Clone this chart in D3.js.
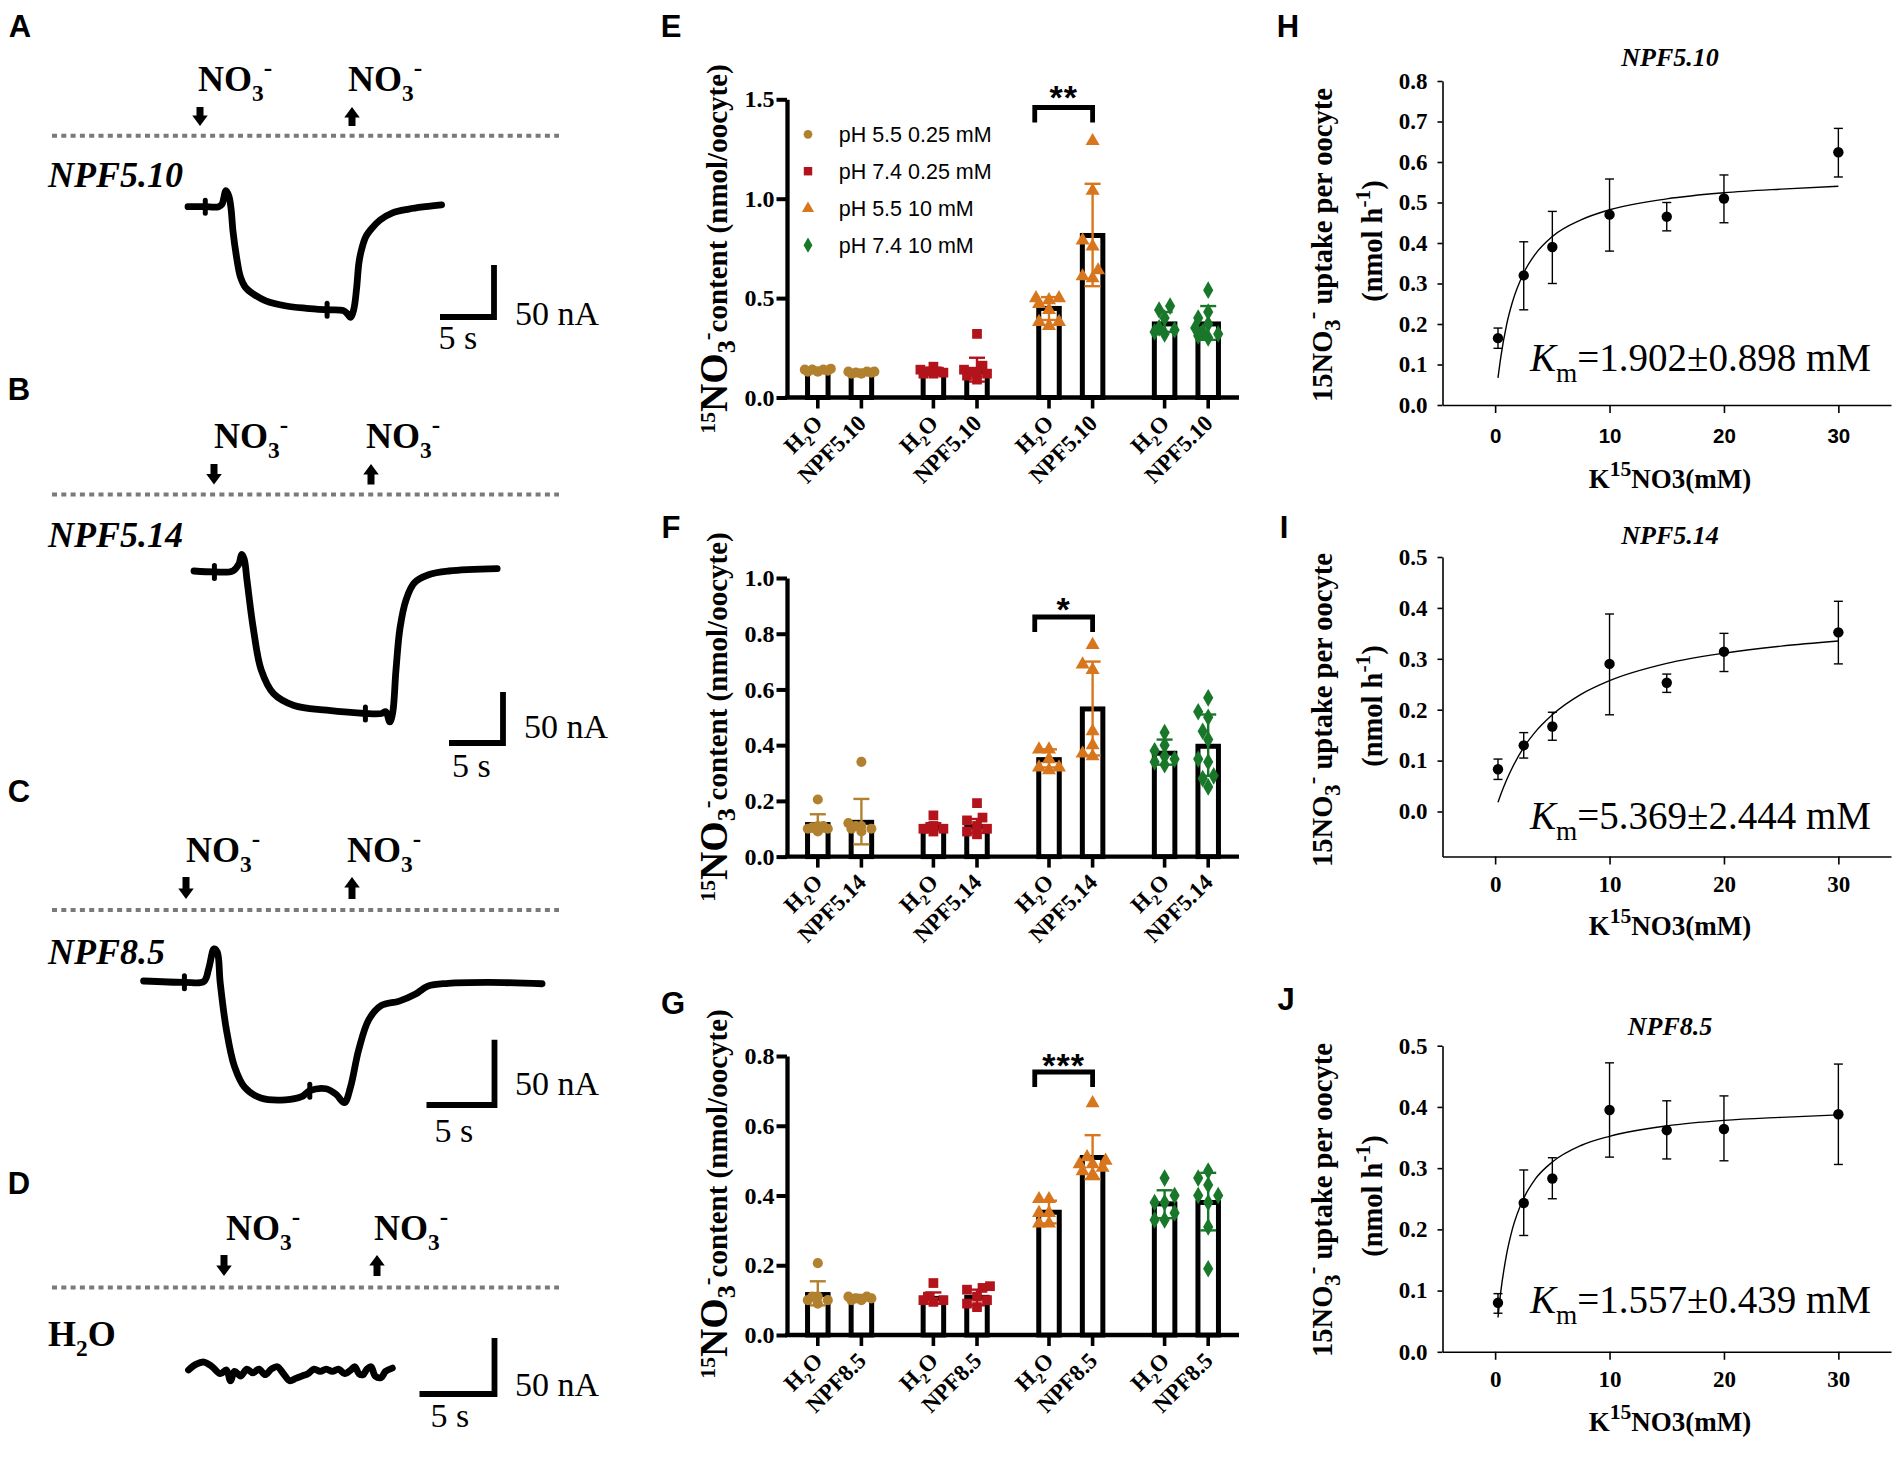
<!DOCTYPE html>
<html><head><meta charset="utf-8">
<script src="https://cdn.jsdelivr.net/npm/d3@7/dist/d3.min.js"></script>
<style>html,body{margin:0;padding:0;background:#fff;}svg{display:block;}</style>
</head><body>
<script>
// ================= DATA =================
// Panels A-D : TEVC current traces  [time (s), current (nA)]
const traceA = [[0,0],[1.52,0],[2.84,0],[3.14,2.3],[3.52,15.5],[3.79,10],[3.98,-1.4],[4.17,-24],[4.47,-46.8],[4.85,-67.3],[5.3,-77.3],[6.06,-84.1],[7.2,-90.5],[9.09,-95.5],[10.98,-97.7],[12.88,-99.1],[14.39,-100],[14.77,-103.2],[15.04,-106.4],[15.34,-99.1],[15.61,-78.6],[15.83,-53.6],[16.1,-40],[16.48,-28.6],[17.05,-20.5],[17.8,-12.7],[18.94,-5.9],[20.45,-2.3],[21.97,0],[23.48,1.8]];
const traceB = [[0,0],[1.89,-0.9],[3.59,0],[4.16,6.9],[4.42,16.2],[4.65,11.6],[4.91,-9.3],[5.48,-55.5],[6.23,-97.2],[7.37,-120.3],[9.26,-131.9],[12.28,-136.5],[15.87,-139.7],[17.38,-139.7],[17.76,-137.9],[18.13,-148],[18.4,-138.8],[18.7,-97.2],[19.08,-55.5],[19.65,-27.8],[20.4,-11.6],[21.72,-3.7],[23.61,0],[28.07,2.3]];
const traceC = [[0,0],[3.0,-1],[4.43,-0.4],[4.79,9.6],[5.18,24.6],[5.42,22],[5.63,-1],[6.08,-36.8],[6.68,-65.4],[7.43,-81.4],[8.62,-89.6],[10.42,-91],[11.62,-88.6],[12.22,-84],[13.41,-82.5],[14.16,-86.8],[14.76,-93.2],[15.21,-81.4],[15.81,-52.9],[16.56,-29.6],[17.46,-18.9],[18.8,-15.4],[20.0,-10],[20.9,-3.9],[22.4,-1.8],[25.4,-1.1],[29.3,-2.1]];
const traceD = [[0,0],[0.49,5],[1.03,7.1],[1.58,2.9],[2.12,-3.3],[2.53,0],[2.8,-9.6],[3.07,-1.25],[3.48,-5.4],[3.89,0.8],[4.29,-2.5],[4.7,0.8],[5.11,-4.2],[5.52,0.8],[5.92,2.9],[6.33,-3.3],[6.74,-9.6],[7.15,-7.5],[7.55,-5.4],[7.96,-3.3],[8.37,0.8],[8.78,-1.25],[9.18,0.8],[9.59,-1.25],[10.0,0.8],[10.41,-3.3],[10.82,0],[11.09,2.9],[11.36,-3.3],[11.63,-4.2],[11.9,0.8],[12.17,2.9],[12.45,-5.4],[12.85,-6.7],[13.13,-1.25],[13.59,1.7]];
const marksA = [[1.6,0],[12.88,-99.1]];
const marksB = [[1.89,-0.9],[15.87,-139.7]];
const marksC = [[3.0,-1],[12.22,-84]];
const marksD = [];
const traceNames = ["NPF5.10","NPF5.14","NPF8.5","H2O"];
const scaleBarTime = 5;   // s
const scaleBarCurrent = 50; // nA

// Panels E-G : 15NO3- content (nmol/oocyte)
const barGroups = ["pH 5.5 0.25 mM","pH 7.4 0.25 mM","pH 5.5 10 mM","pH 7.4 10 mM"];
const E_mean = [0.139,0.13,0.13,0.13,0.448,0.815,0.37,0.37];
const E_lo   = [0.13,0.12,0.12,0.08,0.39,0.56,0.33,0.29];
const E_hi   = [0.15,0.14,0.15,0.20,0.505,1.075,0.43,0.46];
const E_pts  = [[0.13,0.14,0.145,0.135,0.14,0.13,0.14],[0.12,0.13,0.125,0.13,0.12,0.125,0.13],[0.155,0.13,0.12,0.13,0.14,0.12,0.125],[0.32,0.16,0.14,0.12,0.11,0.09,0.13,0.12],[0.50,0.49,0.50,0.47,0.44,0.38,0.36,0.38],[1.29,1.04,0.79,0.76,0.64,0.61,0.60],[0.46,0.44,0.40,0.35,0.34,0.32,0.33],[0.54,0.43,0.40,0.37,0.35,0.33,0.31,0.30,0.32]];
const F_mean = [0.115,0.123,0.107,0.108,0.348,0.53,0.371,0.396];
const F_lo   = [0.09,0.044,0.095,0.085,0.32,0.363,0.33,0.29];
const F_hi   = [0.152,0.207,0.12,0.135,0.385,0.70,0.42,0.51];
const F_pts  = [[0.205,0.11,0.10,0.10,0.11,0.105,0.09],[0.34,0.12,0.11,0.10,0.09,0.10,0.11],[0.148,0.11,0.10,0.10,0.09,0.10],[0.192,0.14,0.13,0.11,0.09,0.08,0.10],[0.385,0.385,0.35,0.32,0.31,0.32],[0.76,0.69,0.67,0.45,0.40,0.37,0.36],[0.445,0.40,0.38,0.35,0.33,0.34,0.36],[0.57,0.52,0.50,0.45,0.42,0.35,0.34,0.29,0.28,0.25]];
const G_mean = [0.116,0.11,0.105,0.108,0.352,0.509,0.376,0.38];
const G_lo   = [0.085,0.10,0.09,0.085,0.32,0.447,0.335,0.30];
const G_hi   = [0.154,0.115,0.122,0.13,0.385,0.573,0.415,0.465];
const G_pts  = [[0.206,0.11,0.10,0.10,0.11,0.09],[0.11,0.105,0.10,0.11,0.10,0.105],[0.149,0.11,0.10,0.10,0.095],[0.14,0.135,0.13,0.11,0.09,0.08,0.10],[0.39,0.39,0.35,0.35,0.32,0.32],[0.665,0.51,0.50,0.49,0.48,0.47,0.46,0.49],[0.45,0.40,0.38,0.38,0.35,0.33,0.33],[0.47,0.45,0.43,0.40,0.40,0.38,0.31,0.19]];
const E_ticks = [0,0.5,1.0,1.5];
const F_ticks = [0,0.2,0.4,0.6,0.8,1.0];
const G_ticks = [0,0.2,0.4,0.6,0.8];

// Panels H-J : uptake kinetics
const conc = [0.25,2.5,5,10,15,20,30];
const H_mean = [0.165,0.32,0.39,0.47,0.465,0.51,0.624];
const H_lo   = [0.14,0.235,0.30,0.38,0.43,0.45,0.563];
const H_hi   = [0.19,0.403,0.478,0.558,0.50,0.568,0.683];
const I_mean = [0.083,0.13,0.167,0.29,0.253,0.314,0.352];
const I_lo   = [0.063,0.105,0.14,0.19,0.234,0.275,0.29];
const I_hi   = [0.103,0.155,0.195,0.388,0.27,0.35,0.413];
const J_mean = [0.08,0.243,0.283,0.395,0.362,0.364,0.388];
const J_lo   = [0.063,0.19,0.25,0.318,0.315,0.312,0.306];
const J_hi   = [0.095,0.297,0.317,0.472,0.41,0.418,0.47];
const fitX   = [0.25,0.5,1,1.5,2.5,3.5,5,7.5,10,15,20,25,30];
const H_fit  = [0.067,0.119,0.198,0.253,0.326,0.372,0.416,0.457,0.482,0.509,0.524,0.533,0.540];
const I_fit  = [0.018,0.034,0.062,0.086,0.126,0.156,0.19,0.23,0.257,0.291,0.311,0.325,0.335];
const J_fit  = [0.056,0.099,0.159,0.2,0.251,0.282,0.31,0.337,0.352,0.369,0.378,0.383,0.387];
const kinTitles = ["NPF5.10","NPF5.14","NPF8.5"];
const kmText = ["1.902\u00B10.898 mM","5.369\u00B12.444 mM","1.557\u00B10.439 mM"];
const kinXTicks = [0,10,20,30];
const H_ticks = [0,0.1,0.2,0.3,0.4,0.5,0.6,0.7,0.8];
const IJ_ticks = [0,0.1,0.2,0.3,0.4,0.5];

// ================= STYLE / LAYOUT =================
const SERIF = "'Liberation Serif','Times New Roman',Times,serif";
const SANS  = "'Liberation Sans',Arial,Helvetica,sans-serif";
const groupColors = ["#b1812f","#b3141c","#d8761d","#19772a"];
const groupSymbols = [d3.symbolCircle,d3.symbolSquare,d3.symbolTriangle,d3.symbolDiamond];
const symbolSizes = [80,95,85,90];

const svg = d3.select("body").append("svg").attr("width",1904).attr("height",1471).attr("viewBox","0 0 1904 1471");
svg.append("rect").attr("width",1904).attr("height",1471).attr("fill","#fff");

function rich(t, parts, base){
  let shift = 0;
  parts.forEach(p=>{
    const s = t.append("tspan").text(p.t);
    let target = 0, size = base*(p.k||1);
    if(p.sub){ target = base*0.28; size = base*(p.k||0.65); }
    if(p.sup){ target = -base*0.42; size = base*(p.k||0.65); }
    const d = target-shift;
    if(d!==0) s.attr("dy",d.toFixed(2));
    s.attr("font-size",size.toFixed(2));
    if(p.it) s.attr("font-style","italic");
    shift = target;
  });
  return t;
}
function richParts(name){
  if(name==="H2O") return [{t:"H"},{t:"2",sub:true},{t:"O"}];
  return [{t:name}];
}

// panel letters
const letters = ["A","B","C","D","E","F","G","H","I","J"];
const letterPos = [[20,37.3],[19,400],[19,802],[19,1194],[671,37.3],[671,538],[673,1014],[1288,37.3],[1284,538],[1286,1010]];
letters.forEach((l,i)=>{
  svg.append("text").attr("x",letterPos[i][0]).attr("y",letterPos[i][1]).attr("text-anchor","middle")
    .attr("font-family",SANS).attr("font-weight","bold").attr("font-size",31).text(l);
});

// ================= PANELS A-D =================
const traceLayout = [
 {data:traceA, marks:marksA, italic:true,  geneY:187.3, dotY:135.7, no3X:[198,348], no3Y:90.7, arrX:[200,352], arrY:[107,126],   x0:188,   y0:206.7, pxs:10.8, pxn:1.04, corner:[494,317],  nA:[515,325],  s:[438.6,349]},
 {data:traceB, marks:marksB, italic:true,  geneY:547,   dotY:494.6, no3X:[214,366], no3Y:448,  arrX:[214,371], arrY:[464,484.5], x0:194,   y0:571,   pxs:10.8, pxn:1.02, corner:[503,743],  nA:[524,738],  s:[452,777]},
 {data:traceC, marks:marksC, italic:true,  geneY:964,   dotY:910,   no3X:[186,347], no3Y:862,  arrX:[186,352], arrY:[877,899],   x0:143.6, y0:981,   pxs:13.6, pxn:1.306,corner:[494.5,1105],nA:[515,1095], s:[434.5,1142]},
 {data:traceD, marks:marksD, italic:false, geneY:1346,  dotY:1287.6,no3X:[226,374], no3Y:1240, arrX:[224,377], arrY:[1255,1276], x0:188.5, y0:1370,  pxs:15,   pxn:1.12, corner:[494.5,1394],nA:[515,1396], s:[430.4,1427]}
];

function arrowPath(x, top, bot, down){
  const sw=7, hw=15.5, hh=10.5;
  if(down) return `M${x-sw/2},${top}L${x+sw/2},${top}L${x+sw/2},${bot-hh}L${x+hw/2},${bot-hh}L${x},${bot}L${x-hw/2},${bot-hh}L${x-sw/2},${bot-hh}Z`;
  return `M${x-sw/2},${bot}L${x+sw/2},${bot}L${x+sw/2},${top+hh}L${x+hw/2},${top+hh}L${x},${top}L${x-hw/2},${top+hh}L${x-sw/2},${top+hh}Z`;
}

traceLayout.forEach((L,i)=>{
  const g = svg.append("g");
  const x = d3.scaleLinear().domain([0,1]).range([L.x0, L.x0+L.pxs]);
  const y = d3.scaleLinear().domain([0,1]).range([L.y0, L.y0-L.pxn]);
  // dotted line
  g.append("line").attr("x1",52).attr("x2",559).attr("y1",L.dotY).attr("y2",L.dotY)
    .attr("stroke","#7a7a7a").attr("stroke-width",4).attr("stroke-dasharray","5,4.3");
  // NO3- labels and arrows
  [0,1].forEach(k=>{
    const t = g.append("text").attr("x",L.no3X[k]).attr("y",L.no3Y).attr("font-family",SERIF).attr("font-weight","bold");
    rich(t,[{t:"NO"},{t:"3",sub:true},{t:"-",sup:true,k:0.7}],36);
    g.append("path").attr("d",arrowPath(L.arrX[k],L.arrY[0],L.arrY[1],k===0)).attr("fill","#000");
  });
  // gene label
  const gt = g.append("text").attr("x",48).attr("y",L.geneY).attr("font-family",SERIF).attr("font-weight","bold")
    .attr("font-style",L.italic?"italic":"normal");
  rich(gt, richParts(traceNames[i]), 36);
  // trace
  const line = d3.line().x(d=>x(d[0])).y(d=>y(d[1])).curve(d3.curveCatmullRom.alpha(0.5));
  g.append("path").datum(L.data).attr("d",line).attr("fill","none").attr("stroke","#000")
    .attr("stroke-width",6.8).attr("stroke-linejoin","round").attr("stroke-linecap","round");
  g.selectAll(".mk").data(L.marks).enter().append("line")
    .attr("x1",d=>x(d[0])).attr("x2",d=>x(d[0])).attr("y1",d=>y(d[1])-6.5).attr("y2",d=>y(d[1])+6.5)
    .attr("stroke","#000").attr("stroke-width",5).attr("stroke-linecap","round");
  // scale bar
  const hx = x(scaleBarTime)-x(0), vy = y(0)-y(scaleBarCurrent);
  const cx = L.corner[0], cy = L.corner[1];
  g.append("path").attr("d",`M${cx-hx},${cy}H${cx}V${cy-vy}`).attr("fill","none").attr("stroke","#000")
    .attr("stroke-width",5.8);
  g.append("text").attr("x",L.nA[0]).attr("y",L.nA[1]).attr("font-family",SERIF).attr("font-size",34).text(scaleBarCurrent+" nA");
  g.append("text").attr("x",L.s[0]).attr("y",L.s[1]).attr("font-family",SERIF).attr("font-size",34).text(scaleBarTime+" s");
});

// ================= PANELS E-G =================
function swarm(vals, yS, r){
  const placed=[], out=new Array(vals.length);
  const order=d3.range(vals.length).sort((a,b)=>vals[a]-vals[b]);
  const cands=[0,-5.5,5.5,-10,10,-13,13];
  order.forEach(i=>{
    const py=yS(vals[i]);
    let best=null, bestD=-1;
    for(const c of cands){
      const md = placed.length? d3.min(placed,p=>Math.hypot(p[0]-c,p[1]-py)) : 1e9;
      if(md>=r*1.7){best=c;break;}
      if(md>bestD){bestD=md;best=c;}
    }
    placed.push([best,py]); out[i]=best;
  });
  return out;
}

const barLayout = [
 {mean:E_mean, lo:E_lo, hi:E_hi, pts:E_pts, ticks:E_ticks, yMax:1.5, y0:397.5, yTop:99.3, gene:"NPF5.10", sig:"**",  bracketTop:107.5, sigY:109, titleY:249,  legend:true},
 {mean:F_mean, lo:F_lo, hi:F_hi, pts:F_pts, ticks:F_ticks, yMax:1.0, y0:856.6, yTop:578,  gene:"NPF5.14", sig:"*",   bracketTop:617,   sigY:621, titleY:717,  legend:false},
 {mean:G_mean, lo:G_lo, hi:G_hi, pts:G_pts, ticks:G_ticks, yMax:0.8, y0:1335,  yTop:1056, gene:"NPF8.5",  sig:"***", bracketTop:1072,  sigY:1077,titleY:1194, legend:false}
];
const BX0 = 787, BX1 = 1239;

barLayout.forEach(L=>{
  const g = svg.append("g");
  const y = d3.scaleLinear().domain([0,L.yMax]).range([L.y0,L.yTop]);
  const gx = d3.scalePoint().domain(d3.range(barGroups.length)).range([BX0,BX1]).padding(0.455);
  const inner = 21.8, bw = 20.5;
  const cx = i => gx(Math.floor(i/2)) + (i%2 ? inner : -inner);
  // y axis
  const ya = d3.axisLeft(y).tickValues(L.ticks).tickFormat(d3.format(".1f")).tickSize(10.5).tickPadding(2).tickSizeOuter(0);
  const ag = g.append("g").attr("transform",`translate(${BX0},0)`).call(ya);
  ag.select(".domain").attr("stroke","#000").attr("stroke-width",4.3);
  ag.selectAll(".tick line").attr("stroke","#000").attr("stroke-width",4);
  ag.selectAll("text").attr("font-family",SERIF).attr("font-weight","bold").attr("font-size",24).attr("fill","#000");
  // x axis
  g.append("line").attr("x1",BX0-2).attr("x2",BX1).attr("y1",L.y0).attr("y2",L.y0).attr("stroke","#000").attr("stroke-width",4.3);
  // y title
  const yt = g.append("text").attr("transform",`translate(727,${L.titleY}) rotate(-90)`).attr("text-anchor","middle")
    .attr("font-family",SERIF).attr("font-weight","bold");
  rich(yt,[{t:"15",sup:true,k:0.75},{t:"NO",k:1.35},{t:"3",sub:true,k:0.9},{t:"-",sup:true,k:0.8},{t:"content (nmol/oocyte)"}],29);
  // bars
  L.mean.forEach((m,i)=>{
    const grp = Math.floor(i/2), col = groupColors[grp];
    g.append("rect").attr("x",cx(i)-bw/2).attr("y",y(m)).attr("width",bw).attr("height",y(0)-y(m))
      .attr("fill","#fff").attr("stroke","#000").attr("stroke-width",5);
    // x tick
    g.append("line").attr("x1",cx(i)).attr("x2",cx(i)).attr("y1",L.y0).attr("y2",L.y0+11).attr("stroke","#000").attr("stroke-width",3.6);
    // points
    const offs = swarm(L.pts[i], y, 5.5);
    L.pts[i].forEach((v,k)=>{
      g.append("path").attr("d",d3.symbol().type(groupSymbols[grp]).size(symbolSizes[grp])())
        .attr("transform",`translate(${cx(i)+offs[k]},${y(v)})`).attr("fill",col);
    });
    // error bar
    const eg = g.append("g").attr("stroke",col).attr("stroke-width",2.4);
    eg.append("line").attr("x1",cx(i)).attr("x2",cx(i)).attr("y1",y(L.lo[i])).attr("y2",y(L.hi[i]));
    eg.append("line").attr("x1",cx(i)-8).attr("x2",cx(i)+8).attr("y1",y(L.hi[i])).attr("y2",y(L.hi[i]));
    eg.append("line").attr("x1",cx(i)-8).attr("x2",cx(i)+8).attr("y1",y(L.lo[i])).attr("y2",y(L.lo[i]));
    // x label
    const name = (i%2===0) ? "H2O" : L.gene;
    const xt = g.append("text").attr("transform",`translate(${cx(i)+6},${L.y0+27}) rotate(-45)`).attr("text-anchor","end")
      .attr("font-family",SERIF).attr("font-weight","bold");
    rich(xt, richParts(name), 23);
  });
  // significance bracket (group 3)
  const xl = cx(4)-bw/2-4, xr = cx(5);
  g.append("path").attr("d",`M${xl},${L.bracketTop+15}V${L.bracketTop}H${xr}V${L.bracketTop+15}`)
    .attr("fill","none").attr("stroke","#000").attr("stroke-width",4.8);
  g.append("text").attr("x",(xl+xr)/2).attr("y",L.sigY).attr("text-anchor","middle").attr("font-family",SANS)
    .attr("font-weight","bold").attr("font-size",34).attr("letter-spacing",1).text(L.sig);
  // legend
  if(L.legend){
    const rowsY=[134.3,171.2,208.4,245.2];
    barGroups.forEach((name,k)=>{
      g.append("path").attr("d",d3.symbol().type(groupSymbols[k]).size(symbolSizes[k]*0.75)())
        .attr("transform",`translate(808,${rowsY[k]})`).attr("fill",groupColors[k]);
      g.append("text").attr("x",838.7).attr("y",rowsY[k]).attr("dy","0.36em").attr("font-family",SANS)
        .attr("font-size",21.5).text(name);
    });
  }
});

// ================= PANELS H-J =================
const kinLayout = [
 {mean:H_mean, lo:H_lo, hi:H_hi, fit:H_fit, ticks:H_ticks, yDom:[0,0.8],      yBot:405,   yTop:81,   titleY:66,   kmY:371.4, xlabY:38, xtitleY:487.5, ytitleY:245,  sansTicks:true},
 {mean:I_mean, lo:I_lo, hi:I_hi, fit:I_fit, ticks:IJ_ticks,yDom:[-0.0884,0.5],yBot:856.5, yTop:557,  titleY:544.4,kmY:829,   xlabY:35, xtitleY:934.5, ytitleY:710,  sansTicks:false},
 {mean:J_mean, lo:J_lo, hi:J_hi, fit:J_fit, ticks:IJ_ticks,yDom:[0,0.5],      yBot:1351.8,yTop:1045.7,titleY:1035,kmY:1313.3,xlabY:35, xtitleY:1430.7,ytitleY:1200, sansTicks:false}
];
const KX0 = 1442.5, KX1 = 1891;

kinLayout.forEach((L,i)=>{
  const g = svg.append("g");
  const x = d3.scaleLinear().domain([-4.6,34.6]).range([KX0,KX1]);
  const y = d3.scaleLinear().domain(L.yDom).range([L.yBot,L.yTop]);
  const ya = d3.axisLeft(y).tickValues(L.ticks).tickFormat(d3.format(".1f")).tickSize(5).tickPadding(10).tickSizeOuter(0);
  const ag = g.append("g").attr("transform",`translate(${KX0},0)`).call(ya);
  ag.select(".domain").attr("stroke","#000").attr("stroke-width",1.6);
  ag.selectAll(".tick line").attr("stroke","#000").attr("stroke-width",1.6);
  ag.selectAll("text").attr("font-family",SERIF).attr("font-weight","bold").attr("font-size",23).attr("fill","#000");
  const xa = d3.axisBottom(x).tickValues(kinXTicks).tickFormat(d3.format("d")).tickSize(8).tickSizeOuter(0);
  const xg = g.append("g").attr("transform",`translate(0,${L.yBot})`).call(xa);
  xg.select(".domain").attr("stroke","#000").attr("stroke-width",1.6);
  xg.selectAll(".tick line").attr("stroke","#000").attr("stroke-width",1.6);
  xg.selectAll("text").attr("y",L.xlabY).attr("dy",0).attr("fill","#000")
    .attr("font-family",L.sansTicks?SANS:SERIF).attr("font-weight","bold").attr("font-size",L.sansTicks?20.5:23);
  // title
  g.append("text").attr("x",1670).attr("y",L.titleY).attr("text-anchor","middle").attr("font-family",SERIF)
    .attr("font-weight","bold").attr("font-style","italic").attr("font-size",26).text(kinTitles[i]);
  // x title
  const xt = g.append("text").attr("x",1670).attr("y",L.xtitleY).attr("text-anchor","middle").attr("font-family",SERIF).attr("font-weight","bold");
  rich(xt,[{t:"K"},{t:"15",sup:true,k:0.8},{t:"NO3(mM)"}],27);
  // y title (two lines)
  const y1 = g.append("text").attr("transform",`translate(1332,${L.ytitleY}) rotate(-90)`).attr("text-anchor","middle").attr("font-family",SERIF).attr("font-weight","bold");
  rich(y1,[{t:"15NO"},{t:"3",sub:true,k:0.8},{t:"-",sup:true,k:0.8},{t:" uptake per oocyte"}],28.5);
  const y2 = g.append("text").attr("transform",`translate(1382,${L.ytitleY-4}) rotate(-90)`).attr("text-anchor","middle").attr("font-family",SERIF).attr("font-weight","bold");
  rich(y2,[{t:"(nmol h"},{t:"-1",sup:true,k:0.75},{t:")"}],28.5);
  // fit curve
  const line = d3.line().x(d=>x(d[0])).y(d=>y(d[1])).curve(d3.curveMonotoneX);
  g.append("path").datum(fitX.map((v,k)=>[v,L.fit[k]])).attr("d",line).attr("fill","none").attr("stroke","#000").attr("stroke-width",1.4);
  // error bars and points
  conc.forEach((c,k)=>{
    const px = x(c);
    const eg = g.append("g").attr("stroke","#000").attr("stroke-width",1.4);
    eg.append("line").attr("x1",px).attr("x2",px).attr("y1",y(L.lo[k])).attr("y2",y(L.hi[k]));
    eg.append("line").attr("x1",px-4.5).attr("x2",px+4.5).attr("y1",y(L.hi[k])).attr("y2",y(L.hi[k]));
    eg.append("line").attr("x1",px-4.5).attr("x2",px+4.5).attr("y1",y(L.lo[k])).attr("y2",y(L.lo[k]));
    g.append("circle").attr("cx",px).attr("cy",y(L.mean[k])).attr("r",5.2).attr("fill","#000");
  });
  // Km
  const kt = g.append("text").attr("x",1530).attr("y",L.kmY).attr("font-family",SERIF);
  rich(kt,[{t:"K",it:true},{t:"m",sub:true,k:0.7},{t:"="+kmText[i]}],39);
});
</script>
</body></html>
